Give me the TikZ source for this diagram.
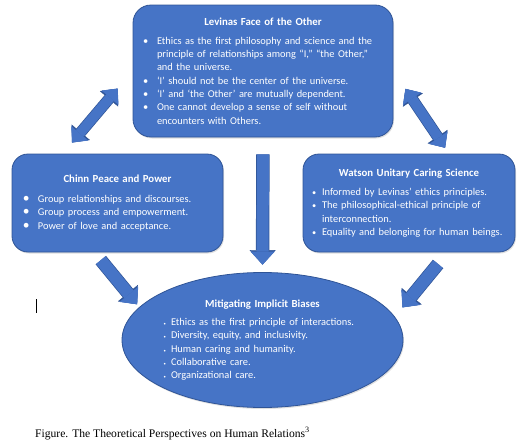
\documentclass[tikz,border=0pt]{standalone}
\usepackage{fontspec}
\setmainfont{Carlito}
\newfontfamily\capfont{Liberation Serif}
\usetikzlibrary{arrows.meta, shapes.geometric, shadows}

\definecolor{boxblue}{RGB}{70,116,198}
\definecolor{boxedge}{RGB}{47,84,150}

% list with the bullet set flush left in the margin
\newenvironment{blist}[2]{%
  \begin{list}{#1}{\setlength{\leftmargin}{#2}\setlength{\labelwidth}{#2}\setlength{\labelsep}{0pt}%
    \setlength{\itemsep}{0pt}\setlength{\parsep}{0pt}\setlength{\topsep}{0pt}\setlength{\partopsep}{0pt}%
    \def\makelabel##1{##1\hfil}}}%
  {\end{list}}
\newcommand{\boxtitle}[2]{{\centering\bfseries\fontsize{10.8}{13}\selectfont #1\par}\vspace{#2}}

\begin{document}
\begin{tikzpicture}[
    x=1pt, y=-1pt,
    blueshape/.style={draw=boxedge, line width=0.8pt, fill=boxblue, text=white, align=left,
        font=\fontsize{10.4}{13.3}\selectfont,
        drop shadow={opacity=0.25, shadow xshift=1pt, shadow yshift=-1.5pt}},
    box/.style={blueshape, rounded corners=16pt, inner ysep=0pt},
    oval/.style={blueshape, ellipse, inner sep=0pt},
    blockarrow/.style={draw=boxblue, line width=12pt,
        -{Triangle[width=24pt, length=13pt, line width=0.4pt]},
        preaction={draw=boxedge, line width=13.4pt,
            -{Triangle[width=26pt, length=14.5pt, line width=0.4pt]}}},
    twoarrow/.style={draw=boxblue, line width=10pt,
        {Triangle[width=22pt, length=12pt, line width=0.4pt]}-{Triangle[width=22pt, length=12pt, line width=0.4pt]},
        preaction={draw=boxedge, line width=11.4pt,
            {Triangle[width=24pt, length=13.5pt, line width=0.4pt]}-{Triangle[width=24pt, length=13.5pt, line width=0.4pt]}}}
]
    \useasboundingbox (0,0) rectangle (531,442);

    \node[box, rounded corners=18pt, minimum width=260pt, minimum height=132pt,
          text width=240pt, inner xsep=10pt] (levinas) at (263,71) {%
        \boxtitle{Levinas Face of the Other}{5.5pt}%
        \begin{blist}{\textbullet}{14pt}
        \item Ethics as the first philosophy and science and the\newline
              principle of relationships among “I,” “the Other,”\newline and the universe.
        \item ‘I’ should not be the center of the universe.
        \item ‘I’ and ‘the Other’ are mutually dependent.
        \item One cannot develop a sense of self without\newline encounters with Others.
        \end{blist}};

    \node[box, minimum width=211pt, minimum height=98pt,
          text width=189pt, inner xsep=11pt] (chinn) at (117.5,203) {%
        \boxtitle{Chinn Peace and Power}{6.5pt}%
        \begin{blist}{\scalebox{1.3}{\textbullet}}{15pt}
        \item Group relationships and discourses.
        \item Group process and empowerment.
        \item Power of love and acceptance.
        \end{blist}};

    \node[box, minimum width=212pt, minimum height=98pt,
          text width=194pt, inner xsep=9pt] (watson) at (409,203) {%
        \boxtitle{Watson Unitary Caring Science}{6pt}%
        \begin{blist}{\scalebox{0.8}{\textbullet}}{10pt}
        \item Informed by Levinas’ ethics principles.
        \item The philosophical-ethical principle of\newline interconnection.
        \item Equality and belonging for human beings.
        \end{blist}};

    \node[oval, minimum width=281pt, minimum height=135pt,
          text width=198pt] (biases) at (262.5,340) {%
        \boxtitle{Mitigating Implicit Biases}{5pt}%
        \begin{blist}{\scalebox{0.45}{\textbullet}}{7.5pt}
        \item Ethics as the first principle of interactions.
        \item Diversity, equity, and inclusivity.
        \item Human caring and humanity.
        \item Collaborative care.
        \item Organizational care.
        \end{blist}};

    \draw[twoarrow, shorten <=23pt, shorten >=14.5pt] (levinas.west) -- (chinn.138);
    \draw[twoarrow, shorten <=21.5pt, shorten >=7pt] (levinas.east) -- (watson.51);
    \draw[blockarrow, shorten <=17pt, shorten >=7.5pt] (levinas.south) -- (biases.north);
    \draw[blockarrow, shorten <=10pt, shorten >=3.5pt] (chinn.245.6) -- (biases.165.5);
    \draw[blockarrow, shorten <=15pt, shorten >=12pt] (watson.308.2) -- (biases.10.9);

    % text cursor left in the page
    \draw[line width=0.8pt] (36,299) -- (36,313);

    \node[anchor=base west, inner sep=0pt, font=\capfont\fontsize{11.6}{13}\selectfont] (caption) at (35,437)
        {Figure. The Theoretical Perspectives on Human Relations\textsuperscript{3}};
\end{tikzpicture}
\end{document}
